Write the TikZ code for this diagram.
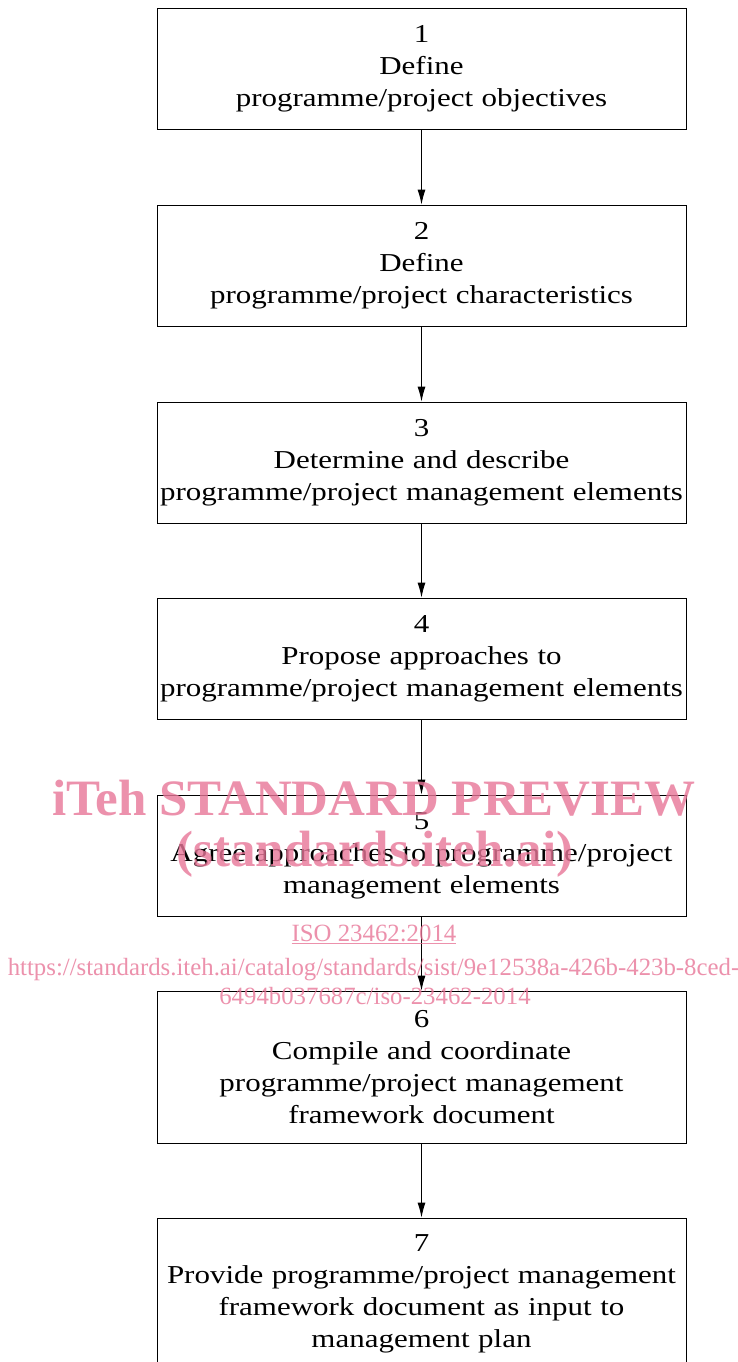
\documentclass[tikz,border=0pt]{standalone}
\usepackage{fontspec}
\setmainfont[FakeStretch=1.2]{Liberation Serif}
\newfontfamily\wmfont{Liberation Serif}
\usetikzlibrary{arrows.meta}
\definecolor{wmpink}{RGB}{232,118,152}
\tikzset{
  stepbox/.style={draw=black, line width=0.9pt, minimum width=529pt, text width=524pt, align=center,
    font=\fontsize{25.8}{32}\selectfont, inner sep=0pt},
  flow/.style={draw=black, line width=0.9pt, -{Latex[length=15pt,width=8pt]}},
  wmbig/.style={text=wmpink, opacity=0.8, font=\wmfont\bfseries\fontsize{51}{51}\selectfont, anchor=base, inner sep=0pt},
  wmsmall/.style={text=wmpink, opacity=0.8, font=\wmfont\fontsize{24.8}{25}\selectfont, anchor=base, inner sep=0pt}
}
\begin{document}
\begin{tikzpicture}[x=1pt,y=-1pt]
\clip (0,0) rectangle (737,1362);
\fill[white] (0,0) rectangle (737,1362);
\node[stepbox, minimum height=121pt] (b1) at (421.5,68.5) {1\\Define\\programme/project objectives};
\node[stepbox, minimum height=121pt] (b2) at (421.5,265.5) {2\\Define\\programme/project characteristics};
\node[stepbox, minimum height=121pt] (b3) at (421.5,462.5) {3\\Determine and describe\\programme/project management elements};
\node[stepbox, minimum height=121pt] (b4) at (421.5,658.5) {4\\Propose approaches to\\programme/project management elements};
\node[stepbox, minimum height=121pt] (b5) at (421.5,855.5) {5\\Agree approaches to programme/project\\management elements};
\node[stepbox, minimum height=152pt] (b6) at (421.5,1067) {6\\Compile and coordinate\\programme/project management\\framework document};
\node[stepbox, minimum height=152pt] (b7) at (421.5,1294) {7\\Provide programme/project management\\framework document as input to\\management plan};
\draw[flow] (b1) -- (b2);
\draw[flow] (b2) -- (b3);
\draw[flow] (b3) -- (b4);
\draw[flow] (b4) -- (b5);
\draw[flow] (b5) -- (b6);
\draw[flow] (b6) -- (b7);
\node[wmbig] (w1) at (374,815) {iTeh STANDARD PREVIEW};
\node[wmbig] (w2) at (375,866) {(standards.iteh.ai)};
\node[wmsmall] (w3) at (374,941) {\underline{ISO 23462:2014}};
\node[wmsmall] (w4) at (373.5,975) {https://standards.iteh.ai/catalog/standards/sist/9e12538a-426b-423b-8ced-};
\node[wmsmall] (w5) at (375,1004) {6494b037687c/iso-23462-2014};
\end{tikzpicture}
\end{document}
